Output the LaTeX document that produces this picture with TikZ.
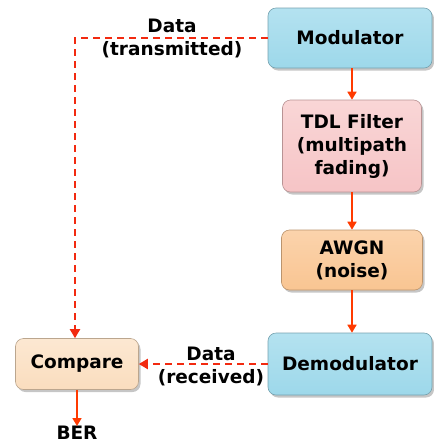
\documentclass[tikz,border=0pt]{standalone}
\usepackage{fontspec}
\setmainfont{DejaVu Sans}
\usetikzlibrary{arrows.meta,shadows}
\definecolor{arr}{HTML}{FF3A00}
\definecolor{darr}{HTML}{F22A10}
\definecolor{bluef}{HTML}{9DD8EA}
\definecolor{bluet}{HTML}{B4E2F0}
\definecolor{pinkf}{HTML}{F6C4C6}
\definecolor{pinkt}{HTML}{F9D6D6}
\definecolor{orf}{HTML}{F9C592}
\definecolor{ort}{HTML}{FBD3AC}
\definecolor{cmpf}{HTML}{FADDBE}
\definecolor{cmpt}{HTML}{FCE8D2}
\tikzset{
  blk/.style={rounded corners=8pt, draw=#1!75!black, line width=0.6pt,
    drop shadow={shadow xshift=2pt,shadow yshift=-2.5pt,opacity=0.45},
    font=\bfseries\fontsize{18.5}{23}\selectfont, align=center, inner sep=0pt},
  lbl/.style={font=\bfseries\fontsize{18.5}{23}\selectfont, align=center, inner sep=0pt},
  sarr/.style={draw=arr, line width=1.6pt, -{Triangle[width=9pt,length=8pt]}, arr},
  darrow/.style={draw=darr, line width=2pt, dash pattern=on 7pt off 5pt, -{Triangle[width=10pt,length=9pt]}, darr},
}
\begin{document}
\begin{tikzpicture}[x=1pt,y=-1pt]
\useasboundingbox (0,0) rectangle (434,445);
\node[blk=bluef, top color=bluet, bottom color=bluef, minimum width=164pt, minimum height=60pt] (mod) at (350,38) {Modulator};
\node[blk=pinkf, top color=pinkt, bottom color=pinkf, minimum width=139pt, minimum height=92pt] (tdl) at (352,146) {TDL Filter\\(multipath\\fading)};
\node[blk=orf, top color=ort, bottom color=orf, minimum width=141pt, minimum height=60pt] (awgn) at (352,260) {AWGN\\(noise)};
\node[blk=bluef, top color=bluet, bottom color=bluef, minimum width=164pt, minimum height=62pt] (demod) at (350,364) {Demodulator};
\node[blk=cmpf, top color=cmpt, bottom color=cmpf, minimum width=123pt, minimum height=51pt] (cmp) at (77,364) {Compare};
\node[lbl] (ber) at (77,433) {BER};
\node[lbl] (ltx) at (172,38) {Data\\(transmitted)};
\node[lbl] (lrx) at (211,366) {Data\\(received)};
\draw[sarr] (mod.south -| tdl.north) -- (tdl.north);
\draw[sarr] (tdl.south) -- (awgn.north);
\draw[sarr] (awgn.south) -- (awgn.south |- demod.north);
\draw[sarr] (cmp.south) -- (ber.north);
\draw[darrow] (mod.west) -| ([xshift=-2pt]cmp.north);
\draw[darrow] (demod.west) -- (cmp.east);
\end{tikzpicture}
\end{document}
